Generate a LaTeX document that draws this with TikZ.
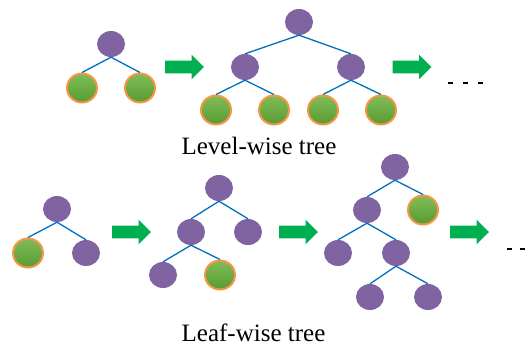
\documentclass[tikz,border=0pt]{standalone}
\usepackage{fontspec}
\setmainfont{Liberation Serif}
\usepackage{xcolor}
\usetikzlibrary{shapes.geometric}
\definecolor{splitpurple}{RGB}{128,100,162}
\definecolor{leafedge}{RGB}{247,150,70}
\definecolor{leaftop}{RGB}{128,189,88}
\definecolor{leafbottom}{RGB}{88,154,50}
\definecolor{linkblue}{RGB}{0,112,192}
\definecolor{arrowgreen}{RGB}{0,176,80}
\tikzset{%
	split/.style    = {ellipse, fill=splitpurple, inner sep=0pt, minimum width=28pt, minimum height=26pt},
	leaf/.style     = {ellipse, draw=leafedge, line width=2pt, top color=leaftop, bottom color=leafbottom, inner sep=0pt, minimum width=30pt, minimum height=29pt},
	link/.style     = {draw=linkblue, line width=1.3pt},
	caption/.style  = {anchor=base, font=\fontsize{25}{28}\selectfont},
}

\begin{document}
\begin{tikzpicture}[x=1pt,y=-1pt]
		\useasboundingbox (0,0) rectangle (532,345);
		
		% level-wise: small tree
		\node[split] (l1r) at (111,44) {};
		\node[leaf] (l1a) at (82,88) {};
		\node[leaf] (l1b) at (140,88) {};
		\foreach \c in {l1a,l1b} \draw[link] (l1r.south) -- (\c.north);
		
		% level-wise: grown tree
		\node[split] (l2r) at (299,22) {};
		\node[split] (l2a) at (245,67) {};
		\node[split] (l2b) at (351,67) {};
		\node[leaf] (l2aa) at (216,110) {};
		\node[leaf] (l2ab) at (274,110) {};
		\node[leaf] (l2ba) at (323,110) {};
		\node[leaf] (l2bb) at (381,110) {};
		\foreach \p/\c in {l2r/l2a,l2r/l2b,l2a/l2aa,l2a/l2ab,l2b/l2ba,l2b/l2bb} \draw[link] (\p.south) -- (\c.north);
		
		\node[caption] (levelcap) at (259,154) {Level-wise tree};
		
		% leaf-wise: three steps
		\node[split] (f1r) at (57,209) {};
		\node[leaf] (f1a) at (28,253) {};
		\node[split] (f1b) at (86,253) {};
		\foreach \c in {f1a,f1b} \draw[link] (f1r.south) -- (\c.north);
		
		\node[split] (f2r) at (219,188) {};
		\node[split] (f2a) at (191,232) {};
		\node[split] (f2b) at (248,232) {};
		\node[split] (f2aa) at (163,275) {};
		\node[leaf] (f2ab) at (220,275) {};
		\foreach \p/\c in {f2r/f2a,f2r/f2b,f2a/f2aa,f2a/f2ab} \draw[link] (\p.south) -- (\c.north);
		
		\node[split] (f3r) at (395,167) {};
		\node[split] (f3a) at (367,210) {};
		\node[leaf] (f3b) at (423,210) {};
		\node[split] (f3aa) at (338,253) {};
		\node[split] (f3ab) at (396,253) {};
		\node[split] (f3aba) at (370,297) {};
		\node[split] (f3abb) at (428,297) {};
		\foreach \p/\c in {f3r/f3a,f3r/f3b,f3a/f3aa,f3a/f3ab,f3ab/f3aba,f3ab/f3abb} \draw[link] (\p.south) -- (\c.north);
		
		\node[caption] (leafcap) at (253.5,341) {Leaf-wise tree};
		
		% block arrows
		\foreach \x/\y in {184.5/67,412/67,131.5/232,298.5/232,469.5/232}
			\fill[arrowgreen,shift={(\x,\y)}] (-19.5,-6.3) -- (7,-6.3) -- (7,-12.3) -- (19.5,0) -- (7,12.3) -- (7,6.3) -- (-19.5,6.3) -- cycle;
		
		% dots
		\foreach \x in {448,463,478} \draw[line width=1.5pt] (\x,83) -- +(5,0);
		\foreach \x in {507,520,533} \draw[line width=1.5pt] (\x,249) -- +(5,0);
\end{tikzpicture}
\end{document}
